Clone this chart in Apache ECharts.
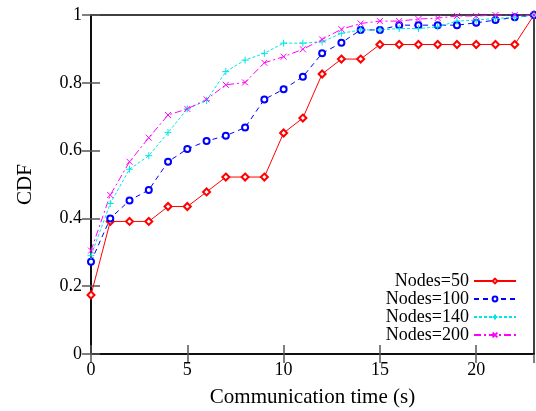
<!DOCTYPE html>
<html lang="en">
<head>
    <meta charset="UTF-8">
    <title>CDF</title>
    <style>
        body { margin: 0; background: #fff; }
    </style>
</head>
<body>
<div id="main" style="width: 536px;height:411px;"></div>
<script src="https://cdn.jsdelivr.net/npm/echarts@6/dist/echarts.min.js"></script>
<script>
    // communication time (s)
    var times = [0, 1, 2, 3, 4, 5, 6, 7, 8, 9, 10, 11, 12, 13, 14, 15, 16, 17, 18, 19, 20, 21, 22, 23];
    var nodes50 = [0.174, 0.391, 0.391, 0.391, 0.435, 0.435, 0.478, 0.522, 0.522, 0.522, 0.652, 0.696, 0.826, 0.870, 0.870, 0.913, 0.913, 0.913, 0.913, 0.913, 0.913, 0.913, 0.913, 1.0];
    var nodes100 = [0.272, 0.400, 0.453, 0.484, 0.567, 0.605, 0.628, 0.644, 0.668, 0.751, 0.781, 0.818, 0.887, 0.918, 0.956, 0.956, 0.970, 0.970, 0.970, 0.970, 0.977, 0.985, 0.993, 1.0];
    var nodes140 = [0.290, 0.444, 0.545, 0.585, 0.653, 0.723, 0.748, 0.833, 0.867, 0.887, 0.917, 0.917, 0.921, 0.946, 0.956, 0.956, 0.960, 0.960, 0.965, 0.982, 0.985, 0.990, 0.993, 1.0];
    var nodes200 = [0.305, 0.469, 0.567, 0.638, 0.705, 0.723, 0.751, 0.794, 0.801, 0.859, 0.877, 0.899, 0.928, 0.958, 0.975, 0.982, 0.982, 0.988, 0.991, 0.997, 0.997, 1.0, 1.0, 1.0];

    function pairs(ys) {
        return times.map(function (t, i) { return [t, ys[i]]; });
    }

    var font = 'Liberation Serif';
    var myChart = echarts.init(document.getElementById('main'));

    function makeSeries(name, ys, color, symbol, size, lineType) {
        return {
            name: name,
            type: 'line',
            data: pairs(ys),
            symbol: symbol,
            symbolSize: size,
            showAllSymbol: true,
            lineStyle: { color: color, width: 1, type: lineType },
            itemStyle: { color: color, borderColor: color, borderWidth: 1 },
            animation: false
        };
    }

    var tickStyle = { show: true, inside: true, length: 9, lineStyle: { color: '#555', width: 1.5 } };

    var option = {
        backgroundColor: '#fff',
        textStyle: { fontFamily: font },
        grid: {
            left: 91, right: 2, top: 15, bottom: 57,
            containLabel: false, outerBoundsMode: 'none',
            show: true, borderColor: '#000', borderWidth: 1.5
        },
        legend: {
            orient: 'vertical',
            right: 14,
            bottom: 62,
            align: 'right',
            itemWidth: 42,
            itemHeight: 6,
            itemGap: 0,
            textStyle: { fontFamily: font, fontSize: 18, lineHeight: 16, color: '#000' },
            data: ['Nodes=50', 'Nodes=100', 'Nodes=140', 'Nodes=200']
        },
        xAxis: [{
            type: 'value',
            min: 0,
            max: 23,
            interval: 5,
            name: 'Communication time (s)',
            nameLocation: 'middle',
            nameGap: 33,
            nameTextStyle: { fontFamily: font, fontSize: 21, color: '#000' },
            axisLine: { lineStyle: { color: '#000', width: 1.5 } },
            axisTick: tickStyle,
            axisLabel: { fontFamily: font, fontSize: 18, color: '#000', margin: 7, showMaxLabel: false },
            splitLine: { show: false }
        }, {
            type: 'value',
            position: 'top',
            min: 0,
            max: 23,
            interval: 5,
            axisLine: { show: false },
            axisTick: tickStyle,
            axisLabel: { show: false },
            splitLine: { show: false }
        }],
        yAxis: [{
            type: 'value',
            min: 0,
            max: 1,
            interval: 0.2,
            name: 'CDF',
            nameLocation: 'middle',
            nameGap: 55,
            nameTextStyle: { fontFamily: font, fontSize: 21, color: '#000' },
            axisLine: { show: true, lineStyle: { color: '#000', width: 1.5 } },
            axisTick: tickStyle,
            axisLabel: { fontFamily: font, fontSize: 18, color: '#000', margin: 9 },
            splitLine: { show: false }
        }, {
            type: 'value',
            position: 'right',
            min: 0,
            max: 1,
            interval: 0.2,
            axisLine: { show: false },
            axisTick: tickStyle,
            axisLabel: { show: false },
            splitLine: { show: false }
        }],
        series: [
            makeSeries('Nodes=50', nodes50, '#ff0000', 'emptyDiamond', 7, 'solid'),
            makeSeries('Nodes=100', nodes100, '#0000ff', 'emptyCircle', 6, [5, 4]),
            makeSeries('Nodes=140', nodes140, '#00e5e5', 'path://M0,5L10,5M5,0L5,10', 7, [3, 2]),
            makeSeries('Nodes=200', nodes200, '#ff00ff', 'path://M0,0L10,10M10,0L0,10', 6, [7, 3, 2, 3])
        ]
    };

    myChart.setOption(option);
</script>
</body>
</html>
